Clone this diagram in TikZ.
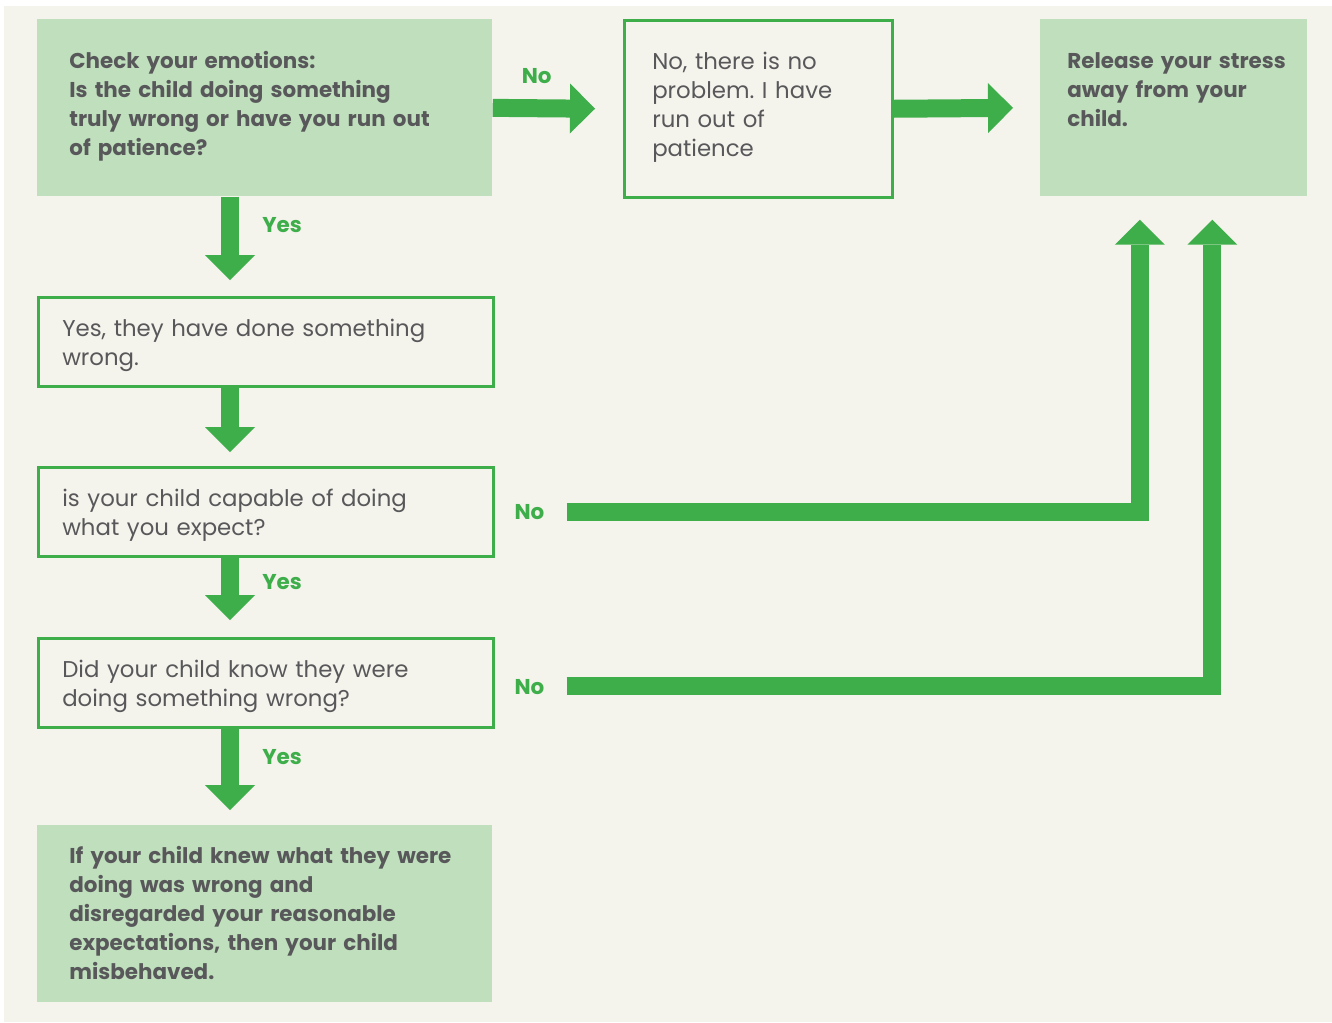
\documentclass[tikz,border=0pt]{standalone}
\usepackage{fontspec}
\setmainfont{Poppins}
\frenchspacing
\usetikzlibrary{arrows.meta,calc}
\definecolor{paper}{HTML}{F4F3EC}
\definecolor{leaf}{HTML}{BFDFBD}
\definecolor{arrowgreen}{HTML}{3DAE4A}
\definecolor{ink}{HTML}{58585A}
\newlength{\pix}
\setlength{\pix}{0.02cm}
\newcommand{\boxfont}{\fontsize{13pt}{16.5pt}\selectfont}
\newcommand{\boldfont}{\fontsize{12.2pt}{16.5pt}\selectfont\bfseries}

\begin{document}
\begin{tikzpicture}[
  x=\pix,
  y=-\pix,
  every node/.style={font=\boxfont, text=ink},
  box/.style={anchor=north west, inner sep=0pt},
  indent/.style={execute at begin node={\leftskip=#1\relax\rightskip=0pt plus 1fil\relax}},
  leafbox/.style={box, fill=leaf, font=\boldfont},
  linebox/.style={box, draw=arrowgreen, line width=2.5\pix},
  tall/.style={text height=49\pix, text depth=128\pix},
  short/.style={text height=39\pix, text depth=50\pix},
  flow/.style={draw=arrowgreen, line width=0.36cm,
    -{Triangle[length=0.5cm, width=1cm, line width=0pt]}},
  answer/.style={font=\boldfont, text=arrowgreen, inner sep=0pt}
]

  % background
  \useasboundingbox (0,0) rectangle (1332,1022);
  \fill[paper] (4,6) rectangle (1332,1022);

  % top row
  \node[leafbox, tall, text width=455\pix, indent=32\pix] (chk) at (37,19)
    {Check your emotions:\\ Is the child doing something\\ truly wrong or have you run out\\ of patience?};
  \node[linebox, tall, text width=268\pix, indent=28\pix] (nop) at (623,19)
    {No, there is no\\ problem. I have\\ run out of\\ patience};
  \node[leafbox, tall, text width=267\pix, indent=27\pix] (rel) at (1040,19)
    {Release your stress\\ away from your\\ child.};

  % left column
  \node[linebox, short, text width=455\pix, indent=24\pix] (wrg) at (37,296)
    {Yes, they have done something\\ wrong.};
  \node[linebox, short, text width=455\pix, indent=24\pix] (cap) at (37,466)
    {is your child capable of doing\\ what you expect?};
  \node[linebox, short, text width=455\pix, indent=24\pix] (knw) at (37,637)
    {Did your child know they were\\ doing something wrong?};
  \node[leafbox, text height=38\pix, text depth=139\pix, text width=455\pix, indent=32\pix] (mis) at (37,825)
    {If your child knew what they were\\ doing was wrong and\\ disregarded your reasonable\\ expectations, then your child\\ misbehaved.};

  % arrows
  \coordinate (col) at (230,0);

  \draw[flow] (chk.east) -- ($(nop.west)+(-28,0)$);
  \node[answer] (no1) at ($(chk.east)+(44,-32)$) {No};
  \draw[flow] (nop.east) -- ($(rel.west)+(-27,0)$);

  \draw[flow] (chk.south -| col) -- ($(wrg.north -| col)+(0,-16)$);
  \node[answer, anchor=west] (yes1) at ($(chk.south -| col)+(32,28)$) {Yes};
  \draw[flow] (wrg.south -| col) -- ($(cap.north -| col)+(0,-14)$);
  \draw[flow] (cap.south -| col) -- ($(knw.north -| col)+(0,-17)$);
  \node[answer, anchor=west] (yes2) at ($(cap.south -| col)+(32,25)$) {Yes};
  \draw[flow] (knw.south -| col) -- ($(mis.north -| col)+(0,-15)$);
  \node[answer, anchor=west] (yes3) at ($(knw.south -| col)+(32,29)$) {Yes};

  \node[answer] (no2) at ($(cap.east)+(35,0)$) {No};
  \draw[flow] ($(cap.east)+(72,0)$) -| ($(rel.south)+(-34,23)$);
  \node[answer] (no3) at ($(knw.east)+(35,4)$) {No};
  \draw[flow] ($(knw.east)+(72,3.5)$) -| ($(rel.south)+(38.5,23)$);

\end{tikzpicture}
\end{document}
